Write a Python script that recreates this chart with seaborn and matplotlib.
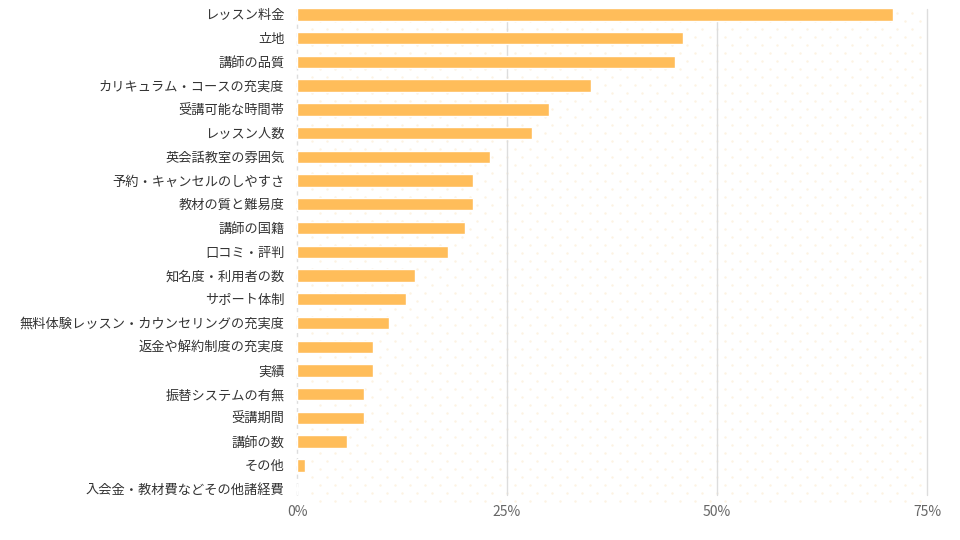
import numpy as np
import pandas as pd
import seaborn as sns
import matplotlib.pyplot as plt

categories = [
    "レッスン料金", "立地", "講師の品質", "カリキュラム・コースの充実度", "受講可能な時間帯",
    "レッスン人数", "英会話教室の雰囲気", "予約・キャンセルのしやすさ", "教材の質と難易度", "講師の国籍",
    "口コミ・評判", "知名度・利用者の数", "サポート体制", "無料体験レッスン・カウンセリングの充実度",
    "返金や解約制度の充実度", "実績", "振替システムの有無", "受講期間", "講師の数", "その他",
    "入会金・教材費などその他諸経費",
]
values = [71, 46, 45, 35, 30, 28, 23, 21, 21, 20, 18, 14, 13, 11, 9, 9, 8, 8, 6, 1, 0]
xticks = [0, 25, 50, 75]

df = pd.DataFrame({"item": categories, "pct": values})

sns.set_style("white")
plt.rcParams["font.family"] = ["Noto Sans CJK JP", "DejaVu Sans"]

fig = plt.figure(figsize=(9.6, 5.4), dpi=100)
ax = fig.add_axes([297 / 960, 45 / 540, 630 / 960, 486 / 540])

# faint dotted background
W, H = 630, 486
dx, dy = 15, 8
pts_x, pts_y = [], []
row = 0
y = 4
while y < H + 12:
    off = 7.5 if row % 2 else 0
    x = 15 + off
    while x < 625:
        pts_x.append(x / W)
        pts_y.append(1 - y / H)
        x += dx
    y += dy
    row += 1
ax.scatter(pts_x, pts_y, s=3, color="#FDF3E2", transform=ax.transAxes,
           clip_on=False, zorder=0, linewidths=0)

for t in xticks[1:]:
    ax.axvline(t, color="#DDDDDD", lw=1, zorder=1, clip_on=False)
ax.axvline(0, color="#DDDDDD", lw=1, ls=(0, (3, 3)), zorder=1, clip_on=False)

sns.barplot(data=df, x="pct", y="item", orient="h", color="#FFBD5A",
            saturation=1, width=0.52, ax=ax, zorder=2)

ax.set_xlim(0, 75)
ax.set_ylim(20.25, -0.23)
ax.set_xticks(xticks)
ax.set_xticklabels([f"{t}%" for t in xticks], color="#666666", fontsize=10)
ax.tick_params(axis="y", labelsize=9.5, labelcolor="#333333", length=0, pad=9)
ax.tick_params(axis="x", length=0, pad=7)
ax.set_xlabel("")
ax.set_ylabel("")
for s in ax.spines.values():
    s.set_visible(False)
ax.patch.set_alpha(0)

fig.savefig("out.png", dpi=100)
